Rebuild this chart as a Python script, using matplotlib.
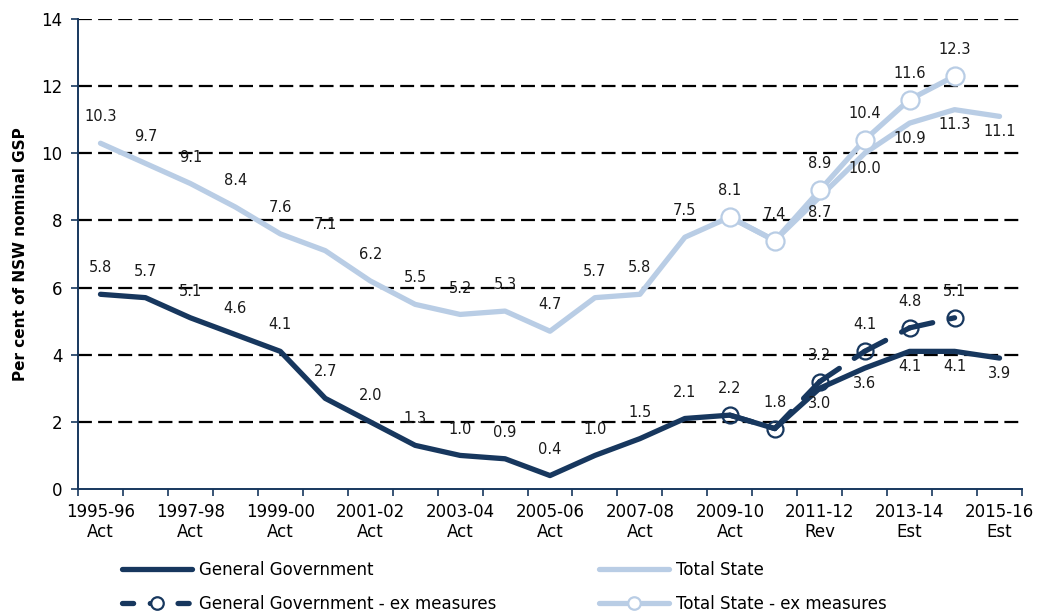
import matplotlib
matplotlib.use("Agg")
import matplotlib.pyplot as plt
from matplotlib.lines import Line2D
import numpy as np

plt.rcParams['font.family'] = ['DejaVu Sans']
plt.rcParams['lines.scale_dashes'] = False

years = ["1995-96", "1996-97", "1997-98", "1998-99", "1999-00", "2000-01", "2001-02",
         "2002-03", "2003-04", "2004-05", "2005-06", "2006-07", "2007-08", "2008-09",
         "2009-10", "2010-11", "2011-12", "2012-13", "2013-14", "2014-15", "2015-16"]
status = ["Act", "Act", "Act", "Act", "Act", "Act", "Act", "Act", "Act", "Act", "Act",
          "Act", "Act", "Act", "Act", "Act", "Rev", "Est", "Est", "Est", "Est"]

general_gov = [5.8, 5.7, 5.1, 4.6, 4.1, 2.7, 2.0, 1.3, 1.0, 0.9, 0.4, 1.0, 1.5, 2.1,
               2.2, 1.8, 3.0, 3.6, 4.1, 4.1, 3.9]
total_state = [10.3, 9.7, 9.1, 8.4, 7.6, 7.1, 6.2, 5.5, 5.2, 5.3, 4.7, 5.7, 5.8, 7.5,
               8.1, 7.4, 8.7, 10.0, 10.9, 11.3, 11.1]
ex_years = ["2009-10", "2010-11", "2011-12", "2012-13", "2013-14", "2014-15"]
general_gov_ex = [2.2, 1.8, 3.2, 4.1, 4.8, 5.1]
total_state_ex = [8.1, 7.4, 8.9, 10.4, 11.6, 12.3]

NAVY = "#17375E"
LIGHT = "#B9CDE5"

fig = plt.figure(figsize=(10.4, 6.14), dpi=100)
ax = fig.add_axes([0.075, 0.2036, 0.9077, 0.7654])

x = np.arange(len(years))
xe = np.array([years.index(y) for y in ex_years])

# main lines
ax.plot(x, total_state, color=LIGHT, lw=3.8, solid_capstyle='round', solid_joinstyle='round', zorder=3)
ax.plot(x, general_gov, color=NAVY, lw=3.8, solid_capstyle='round', solid_joinstyle='round', zorder=5)

# total state ex measures
ax.plot(xe, total_state_ex, color=LIGHT, lw=3.8, solid_capstyle='round', solid_joinstyle='round',
        marker='o', markersize=13, markerfacecolor='white', markeredgecolor=LIGHT,
        markeredgewidth=1.6, zorder=4)

# general government ex measures: dashed, pattern restarting each segment
for i in range(len(xe) - 1):
    ax.plot(xe[i:i + 2], general_gov_ex[i:i + 2], color=NAVY, lw=3.8,
            dashes=(17, 13), dash_capstyle='round', zorder=6)
ax.plot(xe, general_gov_ex, linestyle='none', marker='o', markersize=11.5,
        markerfacecolor='none', markeredgecolor=NAVY, markeredgewidth=1.6, zorder=6)

lab_fs = 10.5
def label(xs, ys, above=True):
    for xi, yi in zip(xs, ys):
        off = 19 if above else -11
        ax.annotate(f"{yi:.1f}", (xi, yi), xytext=(0, off), textcoords='offset points',
                    ha='center', va='center', fontsize=lab_fs, color='#1a1a1a', zorder=10)

label(x[:16], general_gov[:16], above=True)
label(x[16:], general_gov[16:], above=False)
label(x[:16], total_state[:16], above=True)
label(x[16:], total_state[16:], above=False)
label(xe[2:], general_gov_ex[2:], above=True)
label(xe[2:], total_state_ex[2:], above=True)

# axes styling
ax.set_xlim(-0.5, len(years) - 0.5)
ax.set_ylim(0, 14)
ax.set_yticks(np.arange(0, 15, 2))
ax.tick_params(axis='y', labelsize=12, length=5, width=1.2, color=NAVY, pad=6)
for yv in np.arange(2, 15, 2):
    ax.axhline(yv, color='black', lw=1.6, dashes=(10, 4.5), zorder=1)

ax.set_xticks(x[::2])
ax.set_xticklabels([f"{y}\n{s}" for y, s in zip(years[::2], status[::2])], fontsize=12,
                   linespacing=1.15)
ax.set_xticks(np.arange(-0.5, len(years), 1), minor=True)
ax.tick_params(axis='x', which='major', length=0, pad=10)
ax.tick_params(axis='x', which='minor', length=5, width=1.2, color=NAVY)

for s in ['top', 'right']:
    ax.spines[s].set_visible(False)
for s in ['left', 'bottom']:
    ax.spines[s].set_color(NAVY)
    ax.spines[s].set_linewidth(1.4)

ax.set_ylabel("Per cent of NSW nominal GSP", fontsize=11, fontweight='bold', labelpad=10)

handles = [
    Line2D([], [], color=NAVY, lw=3.8, solid_capstyle='round'),
    Line2D([], [], color=NAVY, lw=3.8, dashes=(8, 12), dash_capstyle='round', marker='o',
           markersize=9, markerfacecolor='white', markeredgecolor=NAVY, markeredgewidth=1.6),
    Line2D([], [], color=LIGHT, lw=3.8, solid_capstyle='round'),
    Line2D([], [], color=LIGHT, lw=3.8, solid_capstyle='round', marker='o',
           markersize=9, markerfacecolor='white', markeredgecolor=LIGHT, markeredgewidth=1.6),
]
labels = ["General Government", "General Government - ex measures",
          "Total State", "Total State - ex measures"]
fig.legend(handles, labels, ncol=2, loc='lower left', bbox_to_anchor=(0.103, -0.022),
           frameon=False, fontsize=12, handlelength=4.2, columnspacing=6.2,
           labelspacing=0.95, handletextpad=0.4)

fig.savefig("out.png", dpi=100)
